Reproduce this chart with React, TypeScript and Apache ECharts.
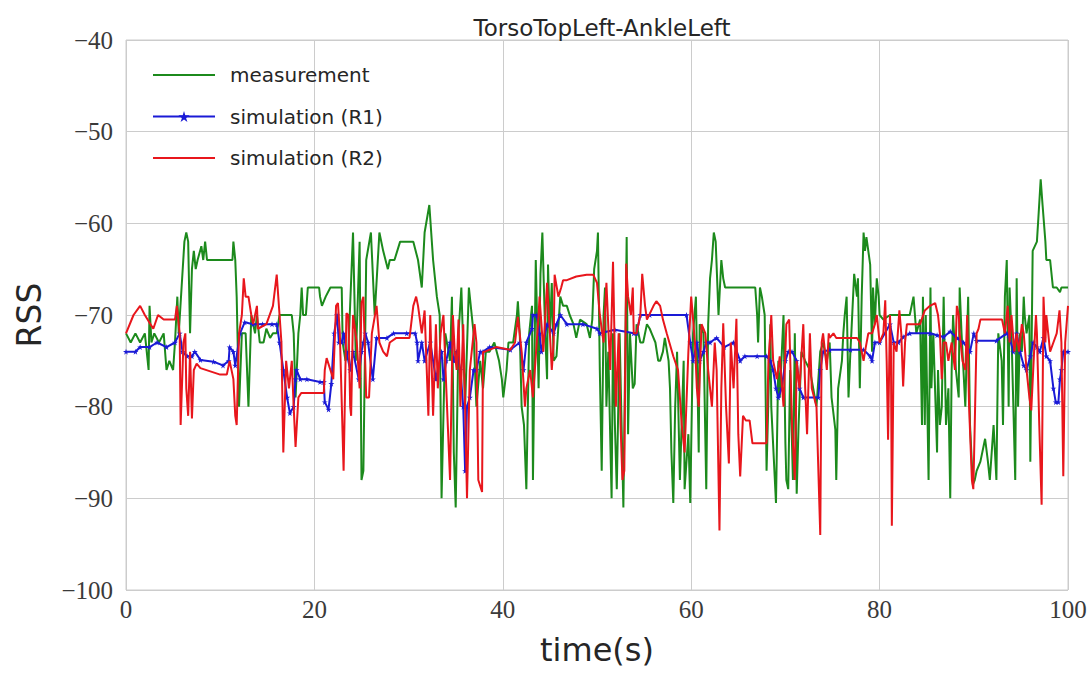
import React, { useEffect, useRef } from "react";
import * as echarts from "echarts";

const TITLE = "TorsoTopLeft-AnkleLeft";
const X_TICKS = [0, 20, 40, 60, 80, 100];
const Y_TICKS = [-100, -90, -80, -70, -60, -50, -40];

const measT = [0, 0.5, 1.0, 1.5, 2.0, 2.4, 2.5, 2.7, 3.0, 3.5, 4.0, 4.3, 4.6, 5.0, 5.2, 5.45, 5.6, 5.9, 6.2, 6.4, 6.6, 6.8, 7.0, 7.2, 7.4, 7.6, 8.0, 8.2, 8.4, 8.6, 11.3, 11.4, 11.6, 11.75, 12.0, 12.3, 12.7, 13.0, 13.3, 13.7, 13.9, 14.2, 14.6, 14.9, 15.3, 15.6, 16.0, 16.3, 17.1, 17.6, 17.8, 18.0, 18.3, 18.5, 18.65, 18.8, 19.1, 19.3, 20.5, 20.6, 20.8, 21.2, 21.7, 22.9, 23.0, 23.3, 23.6, 24.1, 24.4, 24.8, 25.0, 25.2, 25.5, 26.0, 26.4, 26.9, 27.3, 27.8, 28.0, 28.5, 29.1, 29.7, 30.5, 31.0, 31.4, 31.7, 32.2, 32.6, 33.0, 33.3, 33.5, 33.9, 34.4, 34.6, 34.8, 35.0, 35.3, 35.6, 36.0, 36.4, 36.9, 37.2, 37.6, 37.9, 38.2, 38.6, 39.1, 39.6, 39.9, 40.05, 40.4, 40.6, 41.1, 41.5, 41.6, 41.8, 42.0, 42.25, 42.5, 42.8, 43.1, 43.2, 43.5, 43.8, 44.0, 44.2, 44.5, 44.7, 44.8, 45.0, 45.2, 45.4, 45.7, 46.1, 46.4, 46.8, 47.1, 47.5, 47.8, 48.2, 48.9, 49.25, 49.5, 49.7, 50.0, 50.1, 50.3, 50.5, 50.7, 50.85, 51.0, 51.2, 51.55, 51.7, 51.9, 52.1, 52.4, 52.8, 53.0, 53.15, 53.3, 53.5, 53.8, 54.0, 54.2, 54.6, 54.9, 55.3, 55.6, 55.8, 56.2, 56.5, 56.7, 57.0, 57.2, 57.6, 57.75, 57.9, 58.1, 58.3, 58.5, 58.8, 59.2, 59.3, 59.7, 59.9, 60.2, 60.5, 60.8, 60.9, 61.3, 61.6, 61.8, 62.0, 62.2, 62.4, 62.6, 62.9, 63.2, 63.4, 63.6, 66.8, 67.0, 67.1, 67.3, 67.5, 67.8, 68.0, 68.4, 68.5, 69.0, 69.25, 69.4, 69.8, 70.0, 70.1, 70.3, 70.5, 70.8, 71.0, 71.2, 71.4, 71.7, 72.1, 72.6, 73.3, 73.7, 74.0, 74.4, 74.7, 74.9, 75.3, 75.4, 75.6, 76.0, 76.15, 76.3, 76.5, 76.7, 76.9, 77.0, 77.3, 77.6, 77.7, 77.9, 78.1, 78.3, 78.45, 78.6, 79.0, 79.2, 79.3, 79.5, 79.7, 79.9, 80.0, 80.4, 81.1, 82.0, 83.2, 83.6, 83.9, 84.3, 84.5, 84.6, 84.8, 84.9, 85.2, 85.4, 85.5, 85.7, 86.1, 86.2, 86.4, 86.6, 86.8, 87.05, 87.3, 87.5, 87.65, 87.8, 88.1, 88.4, 88.5, 88.7, 89.1, 89.4, 89.6, 89.9, 90.1, 90.3, 90.7, 91.2, 91.5, 91.7, 92.1, 92.4, 92.6, 92.96, 93.1, 93.3, 93.5, 93.7, 93.8, 94.0, 94.2, 94.4, 94.55, 94.7, 94.9, 95.1, 95.3, 95.4, 95.6, 95.9, 96.0, 96.25, 96.7, 96.85, 97.1, 97.3, 97.6, 97.7, 98.1, 98.4, 98.8, 99.15, 99.3, 100];
const measV = [-72, -73, -72, -73, -72, -76, -69, -73, -72, -73, -72, -76, -75, -76, -73, -68, -72, -67, -62, -61, -62, -72, -65, -63, -65, -64, -62.5, -64, -62, -64, -64, -62, -64, -68, -80, -72, -72, -80, -70, -72, -70, -73, -73, -71.5, -72.5, -72, -72, -70, -70, -70, -72, -79, -72, -70, -67, -70, -70, -67, -67, -68, -69, -68, -67, -67, -73, -75, -74, -61, -75, -62, -88, -87, -64, -61, -70, -61, -63, -65, -64, -64, -62, -62, -62, -64, -67, -61, -58, -64, -68, -70, -90, -72, -75, -68, -85, -91, -72, -67, -80, -67, -72, -80, -75, -78, -74, -74, -73, -75, -77, -79, -76, -73, -73, -70, -68.5, -72, -80, -82, -89, -72, -69, -88, -64, -78, -65.5, -61, -72, -77, -64.5, -72, -66.5, -75, -74.5, -68, -69, -69, -70, -71, -72.5, -70.5, -71, -72.5, -70.5, -65, -63, -61, -76, -87, -70, -67, -80, -74, -90, -72, -82, -89, -72, -91, -74, -61.5, -83, -72, -78, -77.5, -71, -73, -73, -71, -71.5, -72, -73, -75, -75, -74, -72.5, -75, -78, -85, -90.5, -80, -74, -88, -75, -89, -83, -90.5, -72, -68, -85, -71, -72, -89, -71, -66, -64, -61, -62, -70, -64, -66, -67, -67, -70, -73, -67, -68, -70, -87, -71, -80, -90.5, -75, -79, -70, -84, -88, -89, -76, -88, -72, -89.5, -82, -74, -75, -76, -80, -74, -73, -75, -73, -79, -82.5, -88, -78, -75, -72, -70, -68, -79, -74, -72, -65.5, -68, -66, -78, -68, -61, -63, -61.5, -64.5, -74, -67, -71, -66, -68, -70, -70.5, -70, -70, -70, -68, -72, -70.5, -82, -68, -82, -70, -88, -67, -78, -72, -85, -76, -82, -80, -68, -82, -78, -90, -76, -70, -76, -79, -67, -72, -80, -68, -82, -88.5, -88, -87, -86, -83.5, -86, -88, -82, -88, -72, -75, -82, -68, -64, -80, -67, -72, -80, -88, -66, -80, -72, -74, -68, -70, -72, -70, -86, -63, -62, -59.5, -55.2, -58, -62, -64, -64, -67, -67, -67.5, -67, -67];

const r1T = [0, 1.0, 1.5, 2.5, 3.3, 4.3, 5.2, 5.7, 6.0, 6.5, 7.0, 7.3, 7.9, 9.3, 10.3, 10.9, 11.0, 11.4, 11.6, 12.1, 12.6, 13.5, 14.5, 15.5, 16.0, 16.3, 16.7, 17.1, 17.4, 17.8, 18.0, 18.1, 18.5, 19.2, 20.6, 21.0, 21.1, 21.5, 21.8, 22.1, 22.4, 22.6, 22.9, 23.1, 23.4, 23.8, 24.1, 24.7, 25.0, 25.2, 25.4, 25.7, 26.2, 26.6, 27.7, 28.4, 29.8, 30.7, 30.9, 31.0, 31.4, 31.7, 32.3, 32.9, 33.5, 33.7, 34.0, 34.4, 34.8, 35.1, 35.5, 35.8, 36.0, 36.2, 36.5, 36.9, 37.2, 37.6, 37.9, 38.6, 40.8, 41.8, 42.2, 42.5, 43.1, 43.2, 43.6, 43.9, 44.1, 44.7, 45.4, 45.7, 46.1, 46.8, 48.5, 50.0, 50.3, 51.9, 53.9, 54.2, 54.6, 55.6, 59.5, 59.9, 60.2, 60.6, 60.9, 61.3, 61.6, 62.0, 62.7, 63.5, 64.5, 65.2, 65.7, 67.0, 68.0, 68.4, 68.7, 69.0, 69.25, 69.6, 70.0, 70.3, 70.7, 71.2, 71.5, 71.9, 73.5, 73.7, 74.0, 74.7, 76.9, 78.3, 79.0, 79.2, 79.5, 80.0, 81.1, 81.5, 82.0, 82.5, 83.2, 85.35, 86.1, 86.8, 87.5, 88.2, 88.9, 89.6, 90.0, 90.3, 92.4, 93.5, 93.8, 94.2, 94.55, 94.9, 95.3, 95.6, 96.0, 96.3, 96.7, 97.0, 97.4, 97.7, 98.1, 98.45, 98.7, 98.98, 99.15, 99.3, 99.5, 100];
const r1V = [-74, -74, -73.5, -73.5, -73, -73.5, -73, -72, -74, -74.5, -74.5, -74, -74.9, -75.1, -75.5, -75, -73.5, -74, -75.5, -72, -70.8, -71, -71, -71, -71, -73, -76, -79, -80.7, -80, -77, -76, -77, -77, -77.3, -77.3, -79.5, -80.3, -77.5, -72, -70, -73, -73, -72, -74, -76, -74, -77, -74, -73, -72, -73, -77, -72.5, -72.5, -72, -72, -72, -73, -75, -73, -75, -73, -77, -74, -77, -75, -73, -75, -74, -76, -80, -87, -80, -79, -76, -76, -74, -74, -73.5, -73.8, -73, -76, -73, -71.5, -70, -70, -72, -74, -71, -72, -71, -70, -71, -71, -71.5, -72, -71.6, -72, -72, -70, -70, -70, -73, -75, -73, -75, -74, -73, -73, -72.5, -73.5, -73, -75, -74.5, -74.5, -74.5, -75, -76, -78, -79, -78, -75, -74, -74, -75, -78, -79, -79, -76, -74, -73.8, -73.8, -73.8, -74.5, -75, -73, -73, -71, -73, -73, -72.4, -72, -72, -72.2, -72.4, -71.8, -72.5, -73, -74, -72, -72.8, -72.8, -72, -72.5, -74, -72, -74, -75.5, -76, -74.5, -73, -73.5, -74, -72.5, -74.5, -75, -78, -79.5, -79.5, -77, -76, -74, -74];

const r2T = [0, 0.8, 1.5, 2.0, 2.6, 2.9, 3.4, 4.0, 5.2, 5.4, 5.7, 5.8, 6.1, 6.3, 6.4, 6.6, 6.8, 7.0, 7.2, 7.5, 7.9, 10.0, 10.7, 11.0, 11.4, 11.6, 11.75, 12.0, 12.3, 12.5, 12.7, 13.0, 13.3, 13.5, 13.9, 14.0, 14.9, 15.6, 16.0, 16.3, 16.5, 16.7, 17.0, 17.3, 17.6, 17.8, 18.0, 18.3, 18.6, 20.5, 21.0, 21.1, 21.3, 21.7, 22.0, 22.3, 22.5, 22.7, 23.1, 23.4, 23.6, 23.8, 23.9, 24.1, 24.5, 24.8, 25.0, 25.2, 25.5, 25.8, 26.1, 26.4, 26.6, 26.9, 27.3, 27.7, 28.0, 28.7, 30.1, 30.5, 30.8, 31.0, 31.4, 31.7, 32.1, 32.3, 32.6, 32.9, 33.1, 33.4, 33.7, 34.0, 34.4, 34.7, 34.9, 35.1, 35.3, 35.5, 35.8, 36.0, 36.2, 36.5, 36.9, 37.0, 37.2, 37.4, 37.8, 37.9, 38.1, 39.3, 40.8, 41.3, 41.6, 42.0, 42.35, 42.5, 42.9, 43.2, 43.4, 43.8, 43.9, 44.1, 44.3, 44.7, 45.0, 45.2, 45.4, 45.5, 45.9, 46.2, 46.4, 46.8, 47.8, 48.9, 49.6, 50.0, 50.3, 50.7, 51.0, 51.4, 51.7, 52.0, 52.3, 52.5, 52.7, 52.9, 53.1, 53.3, 53.6, 53.8, 53.9, 54.2, 54.6, 54.8, 55.1, 55.3, 56.0, 56.3, 56.7, 57.0, 57.4, 58.1, 58.6, 59.0, 59.3, 59.7, 60.0, 60.4, 60.6, 60.8, 61.1, 61.5, 61.8, 62.2, 62.5, 62.7, 63.0, 63.2, 63.4, 63.7, 64.0, 64.2, 64.5, 64.8, 65.0, 65.2, 65.5, 65.8, 66.2, 66.5, 68.0, 68.2, 68.4, 68.5, 68.7, 69.1, 69.4, 69.8, 70.1, 70.4, 70.7, 71.0, 71.2, 71.5, 71.9, 72.1, 72.3, 72.6, 72.8, 73.3, 73.7, 73.85, 74.0, 74.4, 74.6, 74.7, 75.1, 75.4, 76.9, 77.6, 77.9, 78.3, 78.45, 78.8, 79.2, 79.5, 79.7, 80.0, 80.4, 80.6, 80.75, 80.9, 81.1, 81.2, 81.3, 81.5, 81.8, 82.1, 82.3, 82.5, 82.7, 82.9, 84.3, 84.8, 85.35, 85.9, 86.2, 86.4, 86.6, 86.8, 87.05, 87.3, 87.65, 88.0, 88.2, 88.4, 88.5, 88.8, 89.1, 89.3, 89.5, 89.8, 89.95, 90.1, 90.3, 90.5, 90.7, 93.0, 93.3, 93.6, 93.8, 94.0, 94.3, 94.55, 94.8, 95.1, 95.3, 95.6, 95.9, 96.1, 96.4, 96.6, 96.7, 96.95, 97.2, 97.4, 97.6, 97.7, 97.9, 98.1, 98.45, 98.8, 99.1, 99.3, 99.5, 99.7, 100];
const r2V = [-72, -70, -69, -70, -71, -71.5, -70, -70.5, -70.5, -69, -72, -82, -73, -72, -78, -81, -74, -81.3, -76, -75.3, -75.8, -76.5, -76.5, -75, -77, -81, -82, -72, -70, -66, -68, -68, -70, -71, -69, -71.5, -71, -69, -65.6, -70, -73, -85, -75, -78, -75, -80, -84.4, -79, -78.5, -78.5, -78.5, -76, -74.7, -76, -77, -69, -68.7, -72, -87, -69.8, -70, -80, -81, -70, -73, -78, -68.7, -68, -79, -79, -72, -70.2, -69, -73, -74, -74.5, -73, -72.5, -72.5, -69, -68, -69, -72, -69.5, -81, -70, -81, -71, -78, -72, -70, -78, -88, -70, -74, -76, -70.5, -80, -71, -80, -90, -76, -72, -71, -73, -88, -89.3, -74, -74, -73.5, -73.8, -73, -70.2, -74, -80, -78, -76, -79, -76, -70, -68, -71, -74, -66.5, -72, -76, -73, -65.6, -68, -67, -66.2, -66.2, -65.8, -65.6, -65.6, -66.5, -70, -73, -66.5, -76, -64.2, -80, -72, -82, -88, -87, -64.4, -68, -70, -67, -72, -72, -70, -65.5, -69, -70.5, -69, -68.5, -69, -70.5, -72, -74.5, -76, -82, -85, -74, -68, -73, -78, -80, -71, -72, -76, -80, -73, -76, -93.5, -78, -70.9, -80, -86.2, -73, -78, -70.4, -83, -87.6, -81, -81.5, -81.5, -84, -84, -75, -72, -70, -75, -77, -74.5, -80, -71, -70.5, -82, -88, -75, -78, -71, -78, -83, -72, -78, -80, -94, -73, -72, -76, -72, -72.5, -72, -72.5, -72.5, -72.5, -73, -75, -74, -72, -72, -71, -70, -73, -72, -68.4, -75, -83.6, -70, -73, -93, -73, -74, -69.5, -72, -77.8, -73, -71, -71, -69.5, -69, -68.7, -70, -72, -77, -73, -73, -75, -73, -76, -69, -70, -72, -75, -76, -70, -80, -88, -89, -82, -72, -71.5, -70.5, -70.5, -72, -69, -73, -70, -74, -72, -74, -71, -72, -76, -79, -80.4, -74, -70, -72, -82, -90.7, -68, -73, -70, -72, -74, -73, -72, -69.5, -73, -87.6, -73, -69];

const STAR = "path://M50,0 L61,35 L98,35 L68,57 L79,91 L50,70 L21,91 L32,57 L2,35 L39,35 Z";

const GREEN = "#1c8a1c";
const BLUE = "#1a1ad6";
const RED = "#e8161c";

function pairs(t: number[], v: number[]) {
  return t.map((x, i) => [x, v[i]]);
}

export default function App() {
  const ref = useRef<HTMLDivElement>(null);
  useEffect(() => {
    if (!ref.current) return;
    const chart = echarts.init(ref.current, null, { renderer: "svg" });
    const fmt = (v: number) => (v < 0 ? "\u2212" + Math.abs(v) : String(v));
    const hidden = { color: "rgba(0,0,0,0)", borderColor: "rgba(0,0,0,0)", borderWidth: 0 };
    chart.setOption({
      animation: false,
      backgroundColor: "#ffffff",
      title: {
        text: TITLE,
        left: 597,
        top: 11,
        textAlign: "center",
        textStyle: { fontFamily: "DejaVu Sans", fontSize: 23, fontWeight: "normal", color: "#262626" },
      },
      legend: {
        orient: "vertical",
        left: 147,
        top: 58,
        itemWidth: 62,
        itemHeight: 14,
        itemGap: 17.5,
        textStyle: { fontFamily: "DejaVu Sans", fontSize: 20, color: "#262626", lineHeight: 24, padding: [0, 0, 0, 10] },
        data: [
          { name: "measurement", itemStyle: hidden },
          { name: "simulation (R1)" },
          { name: "simulation (R2)", itemStyle: hidden },
        ],
      },
      grid: { left: 126, top: 40, width: 942, height: 550, show: true, borderColor: "#cccccc", borderWidth: 1, backgroundColor: "transparent" },
      xAxis: {
        type: "value",
        min: X_TICKS[0],
        max: X_TICKS[X_TICKS.length - 1],
        interval: 20,
        name: "time(s)",
        nameLocation: "middle",
        nameGap: 44,
        nameTextStyle: { fontFamily: "DejaVu Sans", fontSize: 32, color: "#262626" },
        axisLine: { show: false },
        axisTick: { show: false },
        splitLine: { lineStyle: { color: "#cccccc", width: 1 } },
        axisLabel: { fontFamily: "Liberation Serif", fontSize: 25, color: "#3a3a3a", margin: 7, formatter: fmt },
      },
      yAxis: {
        type: "value",
        min: Y_TICKS[0],
        max: Y_TICKS[Y_TICKS.length - 1],
        interval: 10,
        name: "RSS",
        nameLocation: "middle",
        nameGap: 80,
        nameTextStyle: { fontFamily: "DejaVu Sans", fontSize: 33, color: "#262626" },
        axisLine: { show: false },
        axisTick: { show: false },
        splitLine: { lineStyle: { color: "#cccccc", width: 1 } },
        axisLabel: { fontFamily: "Liberation Serif", fontSize: 25, color: "#3a3a3a", margin: 13, formatter: fmt },
      },
      series: [
        {
          name: "measurement",
          type: "line",
          data: pairs(measT, measV),
          showSymbol: false,
          symbol: "none",
          z: 2,
          lineStyle: { color: GREEN, width: 2 },
          itemStyle: { color: GREEN },
        },
        {
          name: "simulation (R1)",
          type: "line",
          data: pairs(r1T, r1V),
          symbol: STAR,
          symbolSize: 6,
          showSymbol: true,
          z: 3,
          lineStyle: { color: BLUE, width: 2 },
          itemStyle: { color: BLUE },
        },
        {
          name: "simulation (R2)",
          type: "line",
          data: pairs(r2T, r2V),
          showSymbol: false,
          symbol: "none",
          z: 4,
          lineStyle: { color: RED, width: 2 },
          itemStyle: { color: RED },
        },
      ],
    });
    return () => chart.dispose();
  }, []);
  return <div ref={ref} style={{ position: "absolute", left: 0, top: 0, width: 1090, height: 674 }} />;
}
